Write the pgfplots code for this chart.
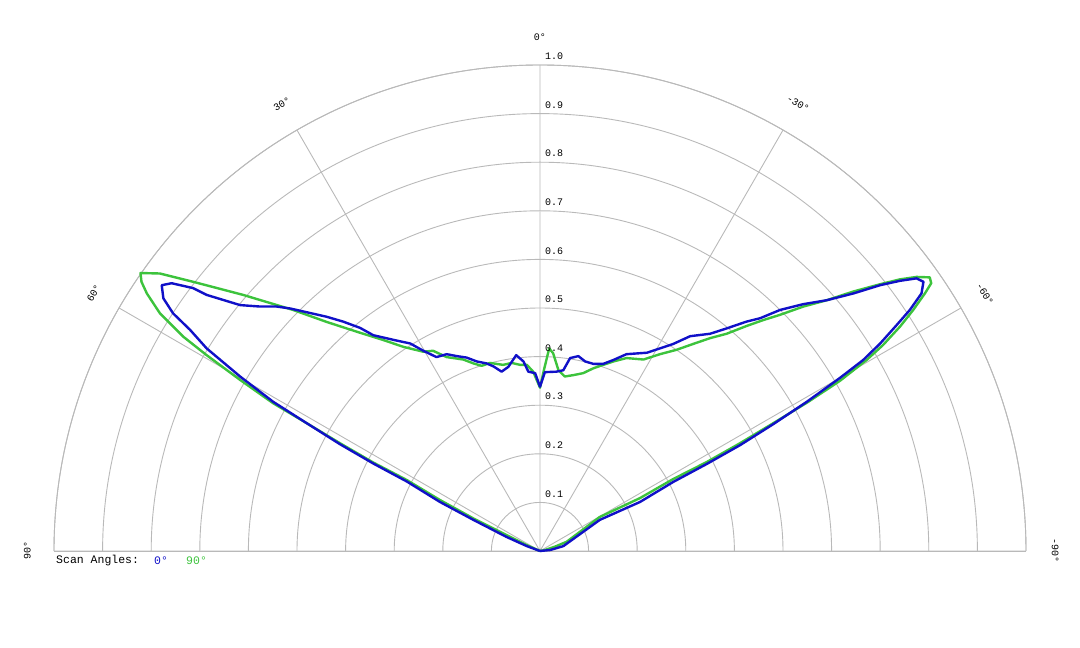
\documentclass[border=0pt]{standalone}
\usepackage{pgfplots}
\pgfplotsset{compat=1.18}
\usepgfplotslibrary{polar}
\usepackage{fontspec}
\setmainfont{Liberation Mono}
\setmonofont{Liberation Mono}
\definecolor{cblue}{RGB}{16,16,200}
\definecolor{cgreen}{RGB}{60,195,60}
\definecolor{cgrid}{RGB}{185,185,185}
\begin{document}
\begin{tikzpicture}[x=1pt,y=1pt]
\useasboundingbox (0,0) rectangle (1080,648);
\begin{polaraxis}[
  at={(540pt,97pt)}, anchor=origin,
  scale only axis, width=972pt, height=972pt,
  xmin=0, xmax=180, ymin=0, ymax=1,
  xtick={0,30,60,90,120,150,180},
  ytick={0.1,0.2,0.3,0.4,0.5,0.6,0.7,0.8,0.9,1.0},
  xticklabels={}, yticklabels={},
  grid=major, major grid style={cgrid, line width=0.9pt},
  axis line style={cgrid, line width=0.9pt},
  major tick length=0pt,
  clip=false,
  every node/.append style={font=\fontsize{11.5}{13}\selectfont},
]
% Scan angle 90 deg (green)
\addplot[cgreen, line width=2.4pt, data cs=cart, line join=round] coordinates {
(0,0) (-0.027,0.012) (-0.069,0.033) (-0.137,0.067) (-0.206,0.105)
(-0.274,0.146) (-0.343,0.182) (-0.412,0.222) (-0.480,0.263) (-0.549,0.304)
(-0.617,0.352) (-0.686,0.403) (-0.734,0.441) (-0.782,0.489) (-0.809,0.530)
(-0.820,0.554) (-0.822,0.572) (-0.782,0.571) (-0.714,0.554) (-0.611,0.527)
(-0.508,0.496) (-0.438,0.471) (-0.370,0.449) (-0.322,0.434) (-0.281,0.420)
(-0.240,0.410) (-0.220,0.412) (-0.192,0.399) (-0.158,0.394) (-0.137,0.386)
(-0.120,0.381) (-0.103,0.387) (-0.076,0.383) (-0.058,0.387) (-0.041,0.383)
(-0.027,0.383) (-0.014,0.369) (0,0.336) (0.008,0.372) (0.019,0.417)
(0.027,0.407) (0.038,0.372) (0.051,0.359) (0.069,0.362) (0.089,0.366)
(0.110,0.376) (0.130,0.383) (0.151,0.390) (0.178,0.397) (0.213,0.394)
(0.247,0.405) (0.281,0.414) (0.315,0.426) (0.350,0.438) (0.384,0.447)
(0.425,0.463) (0.459,0.475) (0.494,0.486) (0.542,0.503) (0.590,0.516)
(0.645,0.534) (0.700,0.549) (0.741,0.559) (0.775,0.564) (0.802,0.563)
(0.805,0.551) (0.792,0.530) (0.768,0.496) (0.741,0.462) (0.706,0.424)
(0.672,0.393) (0.617,0.350) (0.549,0.305) (0.480,0.263) (0.412,0.222)
(0.343,0.183) (0.274,0.148) (0.206,0.109) (0.123,0.070) (0.055,0.019)
(0.031,0.009) (0.010,0.002) (0,0)
};
% Scan angle 0 deg (blue)
\addplot[cblue, line width=2.4pt, data cs=cart, line join=round] coordinates {
(0,0) (-0.027,0.010) (-0.069,0.029) (-0.137,0.064) (-0.206,0.101)
(-0.274,0.143) (-0.343,0.180) (-0.412,0.220) (-0.480,0.263) (-0.549,0.307)
(-0.617,0.359) (-0.686,0.417) (-0.720,0.455) (-0.755,0.489) (-0.775,0.520)
(-0.778,0.544) (-0.778,0.547) (-0.758,0.551) (-0.714,0.541) (-0.686,0.527)
(-0.617,0.506) (-0.576,0.503) (-0.542,0.503) (-0.514,0.499) (-0.439,0.482)
(-0.405,0.472) (-0.370,0.459) (-0.343,0.444) (-0.295,0.433) (-0.267,0.427)
(-0.240,0.412) (-0.213,0.399) (-0.192,0.405) (-0.171,0.401) (-0.151,0.398)
(-0.130,0.390) (-0.110,0.386) (-0.096,0.380) (-0.079,0.369) (-0.065,0.379)
(-0.049,0.403) (-0.034,0.390) (-0.024,0.369) (-0.010,0.366) (0,0.338)
(0.010,0.368) (0.034,0.369) (0.048,0.372) (0.062,0.397) (0.079,0.401)
(0.093,0.390) (0.110,0.385) (0.130,0.385) (0.151,0.393) (0.178,0.405)
(0.220,0.408) (0.247,0.417) (0.274,0.426) (0.309,0.442) (0.350,0.447)
(0.384,0.458) (0.425,0.472) (0.453,0.479) (0.494,0.496) (0.542,0.508)
(0.590,0.516) (0.645,0.530) (0.700,0.547) (0.741,0.556) (0.775,0.561)
(0.789,0.554) (0.785,0.530) (0.761,0.496) (0.734,0.465) (0.700,0.427)
(0.665,0.393) (0.617,0.356) (0.549,0.307) (0.480,0.261) (0.412,0.218)
(0.343,0.179) (0.274,0.142) (0.206,0.101) (0.123,0.064) (0.048,0.010)
(0.021,0.002) (0,0)
};
% angle labels
\node at (axis cs:90,1.058) {0°};
\node[rotate=30] at (axis cs:120,1.062) {30°};
\node[rotate=60] at (axis cs:150,1.06) {60°};
\node[rotate=90] at (axis cs:180,1.055) {90°};
\node[rotate=-30] at (axis cs:60,1.062) {-30°};
\node[rotate=-60] at (axis cs:30,1.057) {-60°};
\node[rotate=-90] at (axis cs:0,1.06) {-90°};
% radial labels
\pgfplotsinvokeforeach{0.1,0.2,0.3,0.4,0.5,0.6,0.7,0.8,0.9,1.0}{
  \node[anchor=south west, inner sep=0pt, xshift=5pt, yshift=5pt] at (axis cs:90,#1) {#1};
}
\end{polaraxis}
\begin{scope}[every node/.style={font=\fontsize{11.5}{13}\selectfont, inner sep=0pt, anchor=west}]
\node at (56,87.5) {Scan Angles:};
\node[text=cblue] at (154,87.5) {0°};
\node[text=cgreen] at (186,87.5) {90°};
\end{scope}
\end{tikzpicture}
\end{document}
